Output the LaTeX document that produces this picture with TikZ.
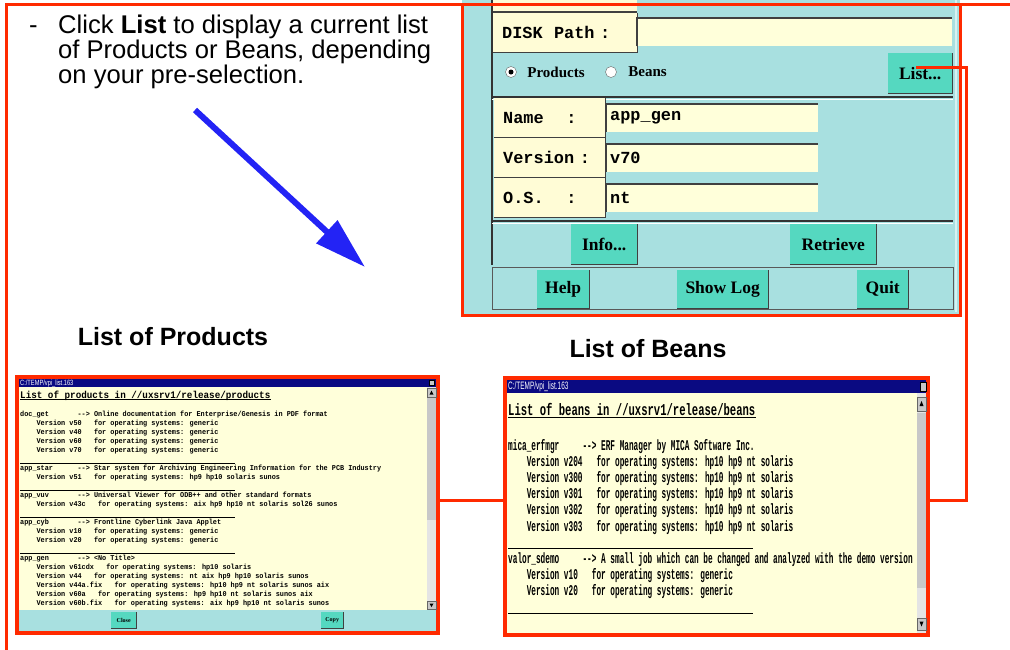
\documentclass[tikz,border=0pt]{standalone}
\usepackage{fontspec}
\setmainfont{Liberation Sans}
\newfontfamily\guimono{Liberation Mono}
\newfontfamily\guiserif{Liberation Serif}
\newfontfamily\listmono[FakeStretch=0.92]{Liberation Mono}
\newfontfamily\beanmono[FakeStretch=0.52]{Liberation Mono}
\newfontfamily\beanhead[FakeStretch=0.64]{Liberation Mono}
\newfontfamily\barfont[FakeStretch=0.6]{Liberation Sans}
\newfontfamily\barfontb[FakeStretch=0.75]{Liberation Sans}
\usepackage{tikz}
\usetikzlibrary{arrows.meta,positioning,calc}

\definecolor{redline}{RGB}{255,42,0}
\definecolor{panelc}{RGB}{168,224,224}
\definecolor{btnc}{RGB}{85,216,192}
\definecolor{beige}{RGB}{255,252,214}
\definecolor{paper}{RGB}{255,255,218}
\definecolor{navy}{RGB}{10,10,130}
\definecolor{arrowblue}{RGB}{35,35,245}
\definecolor{barc}{RGB}{200,200,200}
\definecolor{trackc}{RGB}{228,228,228}

\newcommand{\prule}{\rule[-1.6pt]{215pt}{0.8pt}}
\newcommand{\brule}{\rule[-1.5pt]{245pt}{1pt}}

\tikzset{
  redl/.style={draw=redline, line width=3pt},
  win/.style={draw=redline, line width=4pt, fill=paper, inner sep=0pt},
  lbl/.style={fill=beige, anchor=north west, inner xsep=9pt, inner ysep=0pt, minimum height=39pt, font=\guimono\bfseries\fontsize{16.9}{17}\selectfont},
  entry/.style={fill=paper, anchor=north west, inner xsep=4pt, inner ysep=0pt, minimum height=28pt, font=\guimono\bfseries\fontsize{16.9}{17}\selectfont},
  btn/.style={fill=btnc, anchor=north west, inner sep=0pt, font=\guiserif\bfseries\fontsize{17.5}{18}\selectfont},
  radio/.style={circle, draw=black!60, fill=white, minimum size=11pt, inner sep=0pt},
  rlab/.style={inner sep=0pt, font=\guiserif\bfseries\fontsize{15}{16}\selectfont},
  note/.style={anchor=base west, inner sep=0pt, font=\fontsize{25.6}{26}\selectfont},
  head/.style={anchor=base, inner sep=0pt, font=\bfseries\fontsize{25}{26}\selectfont},
  plist/.style={anchor=base west, inner sep=0pt, font=\listmono\bfseries\fontsize{7.43}{8}\selectfont},
  blist/.style={anchor=base west, inner sep=0pt, font=\beanmono\bfseries\fontsize{14.9}{15}\selectfont},
  bartxt/.style={anchor=base west, inner sep=0pt, text=white},
  bluearr/.style={draw=arrowblue, line width=6pt, -{Triangle[length=52pt,width=30pt]}},
  shade/.style={black!75, line width=1.2pt},
}

\begin{document}
\begin{tikzpicture}[x=1pt,y=-1pt]
		\useasboundingbox (0,0) rectangle (1010,649);
		
		% instruction text
		\node[note] (dash) at (29,33) {-};
		\node[note] (l1) at (58,33) {Click \textbf{List} to display a current list};
		\node[note] (l2) at (58,58.3) {of Products or Beans, depending};
		\node[note] (l3) at (58,83.3) {on your pre-selection.};
		
		\coordinate (tail) at (195,110);
		\coordinate (tip) at (365,267);
		\draw[bluearr] (tail) -- (tip);
		
		% the dialog
		\fill[panelc] (462,0) rectangle (960,315);
		\fill[beige] (493,0) rectangle (637,12);
		\draw[shade] (493,12) -- (637,12);
		\draw[black!80, line width=1.5pt] (492,0) -- (492,265);
		\draw[black!80, line width=1.5pt] (492,97) -- (953,97);
		\draw[white, line width=1pt] (492,99.5) -- (953,99.5);
		\draw[black!80, line width=1.5pt] (492,221) -- (953,221);
		\draw[white, line width=1pt] (492,223.5) -- (953,223.5);
		\draw[gray!70!black, line width=1pt] (492,267) rectangle (953,309);
		\draw[white!55!panelc, line width=2pt] (955.5,0) -- (955.5,312);
		
		\node[lbl, text width=126pt] (disk) at (493,13) {DISK~~Path~:};
		\node[entry, text width=307pt] (path) at (637,18) {};
		
		\node[radio] (rp) at (511,72) {};
		\fill[black] (rp) circle (2.5);
		\node[rlab, right=10.5pt of rp] (tp) {Products};
		\node[radio] (rb) at (611,72) {};
		\node[rlab, right=11.5pt of rb] (tb) {Beans};
		
		\node[lbl, text width=93pt] (nm) at (494,98) {Name~~~~:};
		\node[lbl, text width=93pt] (vs) at (494,138) {Version~:};
		\node[lbl, text width=93pt] (os) at (494,178) {O.S.~~~~:};
		\node[entry, text width=204pt] (enm) at (606,104) {app\_gen};
		\node[entry, text width=204pt] (evs) at (606,144) {v70};
		\node[entry, text width=204pt] (eos) at (606,184) {nt};
		
		\node[btn, minimum width=64pt, minimum height=40pt] (list) at (888,53) {List...};
		\node[btn, minimum width=66pt, minimum height=40pt] (info) at (571,224) {Info...};
		\node[btn, minimum width=86pt, minimum height=40pt] (retr) at (790,224) {Retrieve};
		\node[btn, minimum width=52pt, minimum height=38pt] (help) at (537,270) {Help};
		\node[btn, minimum width=91pt, minimum height=38pt] (slog) at (677,270) {Show Log};
		\node[btn, minimum width=51pt, minimum height=38pt] (quit) at (857,270) {Quit};
		
		\foreach \b in {disk,nm,vs,os,list,info,retr,help,slog,quit}
		\draw[shade] (\b.north east) |- (\b.south west);
		\foreach \e in {path,enm,evs,eos}
		\draw[shade] (\e.south west) |- (\e.north east);
		
		\draw[redl] (462,4) rectangle (960,315);
		
		% list of products window
		\node[head] (hp) at (173,345) {List of Products};
		\node[win, minimum width=421pt, minimum height=256pt] (prods) at (227.5,505) {};
		\fill[navy] (19,379) rectangle (436,387);
		\node[bartxt, font=\barfontb\fontsize{7.6}{8}\selectfont] (pbar) at (20,385.2) {C:/TEMP/vpi\_list.163};
		\draw[black, fill=barc, line width=0.4pt] (429,380) rectangle (434.5,385.5);
		\fill[trackc] (427,387) rectangle (436,610);
		\fill[barc] (427,398) rectangle (436,520);
		\draw[black!60, fill=barc, line width=0.4pt] (427,388) rectangle (436,397);
		\draw[black!60, fill=barc, line width=0.4pt] (427,601) rectangle (436,609);
		\fill[black] (431.5,390.5) -- (429.5,394.5) -- (433.5,394.5) -- cycle;
		\fill[black] (431.5,607) -- (429.5,603.5) -- (433.5,603.5) -- cycle;
		\fill[panelc] (19,610) rectangle (436,631);
		\node[btn, minimum width=25pt, minimum height=16pt, font=\guiserif\bfseries\fontsize{6}{7}\selectfont] (close) at (111,612) {Close};
		\node[btn, minimum width=22pt, minimum height=16pt, font=\guiserif\bfseries\fontsize{6}{7}\selectfont] (copy) at (321,612) {Copy};
		\draw[shade, line width=0.8pt] (close.north east) |- (close.south west);
		\draw[shade, line width=0.8pt] (copy.north east) |- (copy.south west);
		
		\node[plist, font=\listmono\bfseries\fontsize{10.07}{11}\selectfont] (pt) at (20,398) {List of products in //uxsrv1/release/products};
		\draw[line width=0.8pt] ([yshift=-1.6pt]pt.base west) -- ([yshift=-1.6pt]pt.base east);
		\foreach \txt [count=\i] in {
			doc\_get~~~~~~~-{}-> Online documentation for Enterprise/Genesis in PDF format,
			~~~~Version v50~~~for operating systems: generic,
			~~~~Version v40~~~for operating systems: generic,
			~~~~Version v60~~~for operating systems: generic,
			~~~~Version v70~~~for operating systems: generic,
			\prule,
			app\_star~~~~~~-{}-> Star system for Archiving Engineering Information for the PCB Industry,
			~~~~Version v51~~~for operating systems: hp9 hp10 solaris sunos,
			\prule,
			app\_vuv~~~~~~~-{}-> Universal Viewer for ODB++ and other standard formats,
			~~~~Version v43c~~~for operating systems: aix hp9 hp10 nt solaris sol26 sunos,
			\prule,
			app\_cyb~~~~~~~-{}-> Frontline Cyberlink Java Applet,
			~~~~Version v10~~~for operating systems: generic,
			~~~~Version v20~~~for operating systems: generic,
			\prule,
			app\_gen~~~~~~~-{}-> <No Title>,
			~~~~Version v61cdx~~~for operating systems: hp10 solaris,
			~~~~Version v44~~~for operating systems: nt aix hp9 hp10 solaris sunos,
			~~~~Version v44a.fix~~~for operating systems: hp10 hp9 nt solaris sunos aix,
			~~~~Version v60a~~~for operating systems: hp9 hp10 nt solaris sunos aix,
			~~~~Version v60b.fix~~~for operating systems: aix hp9 hp10 nt solaris sunos}
		\node[plist] (pl\i) at (20,407.8+9*\i) {\txt};
		
		% list of beans window
		\node[head] (hb) at (648,357) {List of Beans};
		\node[win, minimum width=423pt, minimum height=257pt] (beans) at (716.5,506.5) {};
		\fill[navy] (507,380) rectangle (926,393);
		\node[bartxt, font=\barfont\fontsize{10.75}{11}\selectfont] (bbar) at (508,389.9) {C:/TEMP/vpi\_list.163};
		\draw[black, fill=barc, line width=0.4pt] (920,382) rectangle (926,391);
		\fill[trackc] (917,393) rectangle (926,633);
		\fill[barc] (917,413) rectangle (926,588);
		\draw[black!60, fill=barc, line width=0.4pt] (917,397) rectangle (926,411);
		\draw[black!60, fill=barc, line width=0.4pt] (917,618) rectangle (926,630);
		\fill[black] (921.5,401) -- (919.5,406) -- (923.5,406) -- cycle;
		\fill[black] (921.5,626.5) -- (919.5,621.5) -- (923.5,621.5) -- cycle;
		
		\node[blist, font=\beanhead\bfseries\fontsize{16.5}{17}\selectfont] (bt) at (508,415.7) {List of beans in //uxsrv1/release/beans};
		\draw[line width=1pt] ([yshift=-2pt]bt.base west) -- ([yshift=-2pt]bt.base east);
		\foreach \txt [count=\i] in {
			mica\_erfmgr~~~~~-{}-> ERF Manager by MICA Software Inc.,
			~~~~Version v204~~~for operating systems: hp10 hp9 nt solaris,
			~~~~Version v300~~~for operating systems: hp10 hp9 nt solaris,
			~~~~Version v301~~~for operating systems: hp10 hp9 nt solaris,
			~~~~Version v302~~~for operating systems: hp10 hp9 nt solaris,
			~~~~Version v303~~~for operating systems: hp10 hp9 nt solaris,
			\brule,
			valor\_sdemo~~~~~-{}-> A small job which can be changed and analyzed with the demo version,
			~~~~Version v10~~~for operating systems: generic,
			~~~~Version v20~~~for operating systems: generic,
			\brule}
		\node[blist] (bl\i) at (508,433.95+16.2*\i) {\txt};
		
		% red connectors
		\coordinate (turn) at (966,500);
		\draw[redl] ([xshift=-4pt,yshift=6pt]list.center) -| (turn) -- (turn -| beans.east);
		\draw[redl] (prods.east |- turn) -- (beans.west |- turn);
		\draw[redl] (6,652) |- (1013,4);
\end{tikzpicture}
\end{document}
